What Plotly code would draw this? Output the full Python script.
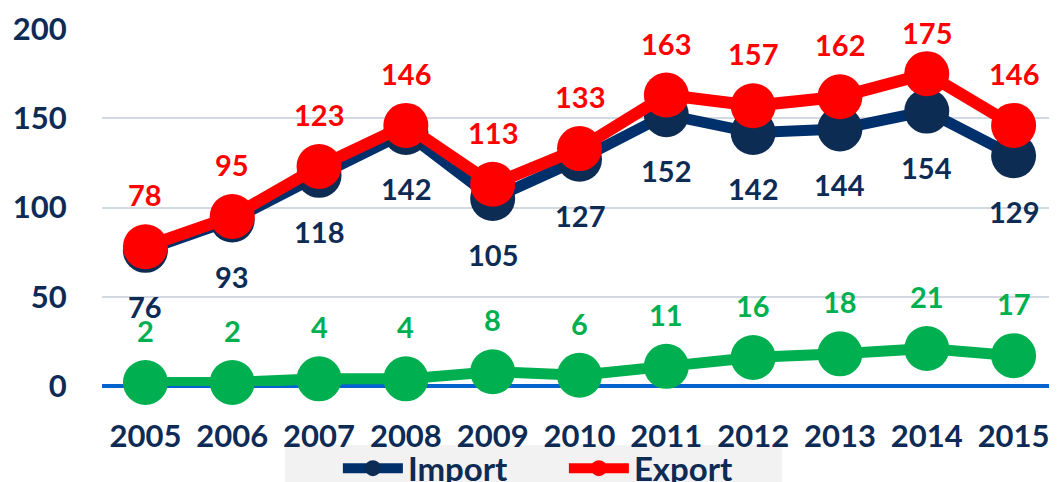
import plotly.graph_objects as go

years = [2005, 2006, 2007, 2008, 2009, 2010, 2011, 2012, 2013, 2014, 2015]
year_labels = ["2005", "2006", "2007", "2008", "2009", "2010", "2011", "2012", "2013", "2014", "2015"]
import_vals = [76, 93, 118, 142, 105, 127, 152, 142, 144, 154, 129]
export_vals = [78, 95, 123, 146, 113, 133, 163, 157, 162, 175, 146]
other_vals = [2, 2, 4, 4, 8, 6, 11, 16, 18, 21, 17]

NAVY_LINE = "#00306c"
NAVY_MARK = "#0c2c54"
NAVY_TEXT = "#0d2b55"
RED = "#ff0000"
GREEN = "#00b050"
FONT = "Lato"

Y_MAX = 200
PLOT_H = 357   # plot area height in px
TOP_M = 21     # top margin in px


def above_shift(v, gap=52, min_center=24):
    # keep labels above points, but their centre no closer than min_center px to the figure top
    pix_from_top = TOP_M + (Y_MAX - v) * PLOT_H / Y_MAX
    return min(gap, pix_from_top - min_center)


fig = go.Figure()
fig.add_trace(go.Scatter(x=years, y=other_vals, mode="lines+markers", showlegend=False,
                         line=dict(color=GREEN, width=11),
                         marker=dict(color=GREEN, size=45), cliponaxis=False))
fig.add_trace(go.Scatter(x=years, y=import_vals, mode="lines+markers", name="Import",
                         line=dict(color=NAVY_LINE, width=11),
                         marker=dict(color=NAVY_MARK, size=45), cliponaxis=False))
fig.add_trace(go.Scatter(x=years, y=export_vals, mode="lines+markers", name="Export",
                         line=dict(color=RED, width=12),
                         marker=dict(color=RED, size=45), cliponaxis=False))

annotations = []
for x, v in zip(years, export_vals):
    annotations.append(dict(x=x, y=v, xref="x", yref="y", text=str(v), showarrow=False,
                            yshift=above_shift(v),
                            font=dict(family=FONT, size=29, color=RED, weight="bold")))
for x, v in zip(years, import_vals):
    annotations.append(dict(x=x, y=v, xref="x", yref="y", text=str(v), showarrow=False, yshift=-56,
                            font=dict(family=FONT, size=29, color=NAVY_TEXT, weight="bold")))
for x, v in zip(years, other_vals):
    annotations.append(dict(x=x, y=v, xref="x", yref="y", text=str(v), showarrow=False, yshift=52,
                            font=dict(family=FONT, size=29, color=GREEN, weight="bold")))

# the page body adds an 8px margin, so the figure is 8px smaller and margins 8px less
fig.update_layout(
    width=1049, height=474,
    margin=dict(l=94, r=0, t=TOP_M, b=96, autoexpand=False),
    paper_bgcolor="white", plot_bgcolor="white",
    annotations=annotations,
    shapes=[dict(type="rect", xref="paper", yref="paper", layer="below",
                 x0=0.1916, x1=0.712, y0=-0.27, y1=-0.165,
                 fillcolor="#f2f2f2", line=dict(width=0))],
    showlegend=True,
    legend=dict(orientation="h", x=0.247, xanchor="left", y=-0.152, yanchor="top",
                bgcolor="rgba(0,0,0,0)", font=dict(family=FONT, size=33, color=NAVY_TEXT, weight="bold"),
                itemwidth=60, entrywidth=151, traceorder="normal"),
    xaxis=dict(type="linear", range=[years[0] - 0.5, years[-1] + 0.5], automargin=False,
               tickmode="array", tickvals=years, ticktext=year_labels,
               showgrid=False, showline=False, zeroline=False,
               ticks="outside", ticklen=23, tickcolor="rgba(0,0,0,0)",
               tickfont=dict(family=FONT, size=31, color=NAVY_TEXT, weight="bold")),
    yaxis=dict(range=[0, Y_MAX], tickvals=[0, 50, 100, 150, 200], showgrid=True, automargin=False,
               gridcolor="#d3d9e3", gridwidth=1.5, zeroline=True, zerolinecolor="#0563cf",
               zerolinewidth=3.5, showline=False,
               ticks="outside", ticklen=28, tickcolor="rgba(0,0,0,0)",
               tickfont=dict(family=FONT, size=31, color=NAVY_TEXT, weight="bold")),
)

fig.write_html("out.html")
